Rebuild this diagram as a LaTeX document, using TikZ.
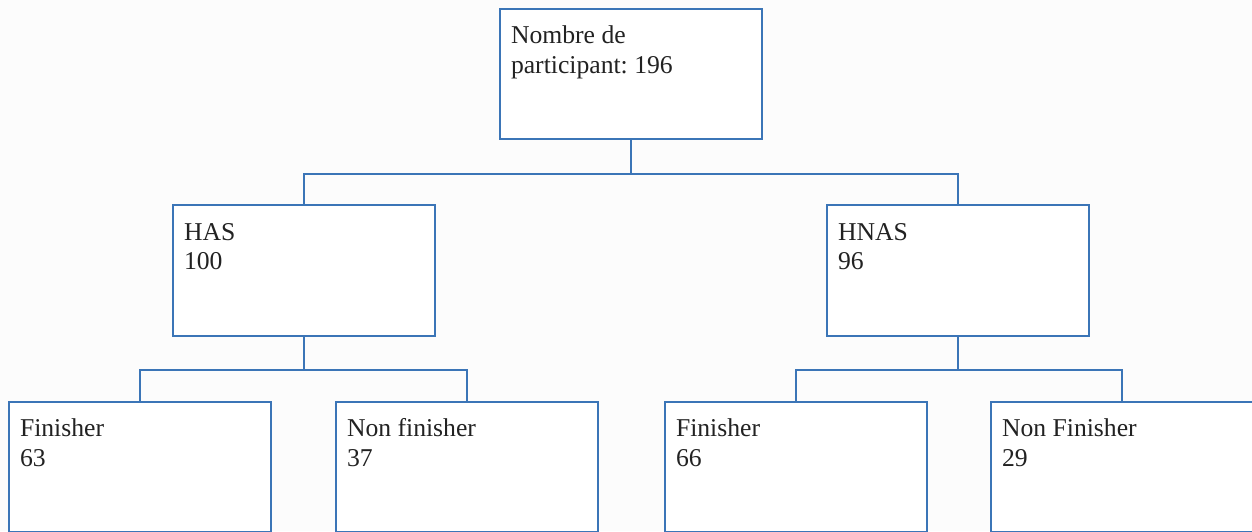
\documentclass[tikz,border=0pt]{standalone}
\usepackage{fontspec}
\setmainfont{Liberation Serif}
\usepackage{tikz}
\usetikzlibrary{calc}
\definecolor{boxblue}{RGB}{59,117,183}
\definecolor{pagebg}{RGB}{252,252,252}
\definecolor{txt}{RGB}{34,34,34}
\newcommand{\boxtext}[1]{\parbox[t][2.04cm][t]{4.8cm}{\strut#1}}
\frenchspacing

\begin{document}
\begin{tikzpicture}[
    every node/.style={font=\fontsize{14.6}{16.8}\selectfont,text=txt},
    box/.style={draw=boxblue,line width=1.2pt,fill=white,
      minimum width=5.24cm,minimum height=2.6cm,
      inner xsep=0.2cm,inner ysep=0.28cm,anchor=north},
    link/.style={draw=boxblue,line width=1.2pt}]
          \useasboundingbox (0,0) rectangle (25.04,10.62);
          \fill[pagebg] (0,0) rectangle (25.04,10.62);
          \clip (0,0) rectangle (25.04,10.62);
          % first level
          \node[box] (total) at (12.62,10.46) {\boxtext{Nombre de\\participant: 196}};
          % second level
          \node[box,minimum height=2.62cm] (has) at (6.08,6.54) {\boxtext{HAS\\100}};
          \node[box,minimum height=2.62cm] (hnas) at (19.16,6.54) {\boxtext{HNAS\\96}};
          % third level
          \node[box] (hasfin) at (2.80,2.60) {\boxtext{Finisher\\63}};
          \node[box] (hasnon) at (9.34,2.60) {\boxtext{Non finisher\\37}};
          \node[box] (hnasfin) at (15.92,2.60) {\boxtext{Finisher\\66}};
          \node[box] (hnasnon) at (22.44,2.60) {\boxtext{Non Finisher\\29}};
          % links
          \draw[link] (total.south) -- ++(0,-0.68) -| (has.north);
          \draw[link] (total.south) -- ++(0,-0.68) -| (hnas.north);
          \draw[link] (has.south) -- ++(0,-0.66) -| (hasfin.north);
          \draw[link] (has.south) -- ++(0,-0.66) -| (hasnon.north);
          \draw[link] (hnas.south) -- ++(0,-0.66) -| (hnasfin.north);
          \draw[link] (hnas.south) -- ++(0,-0.66) -| (hnasnon.north);
        \end{tikzpicture}
\end{document}
